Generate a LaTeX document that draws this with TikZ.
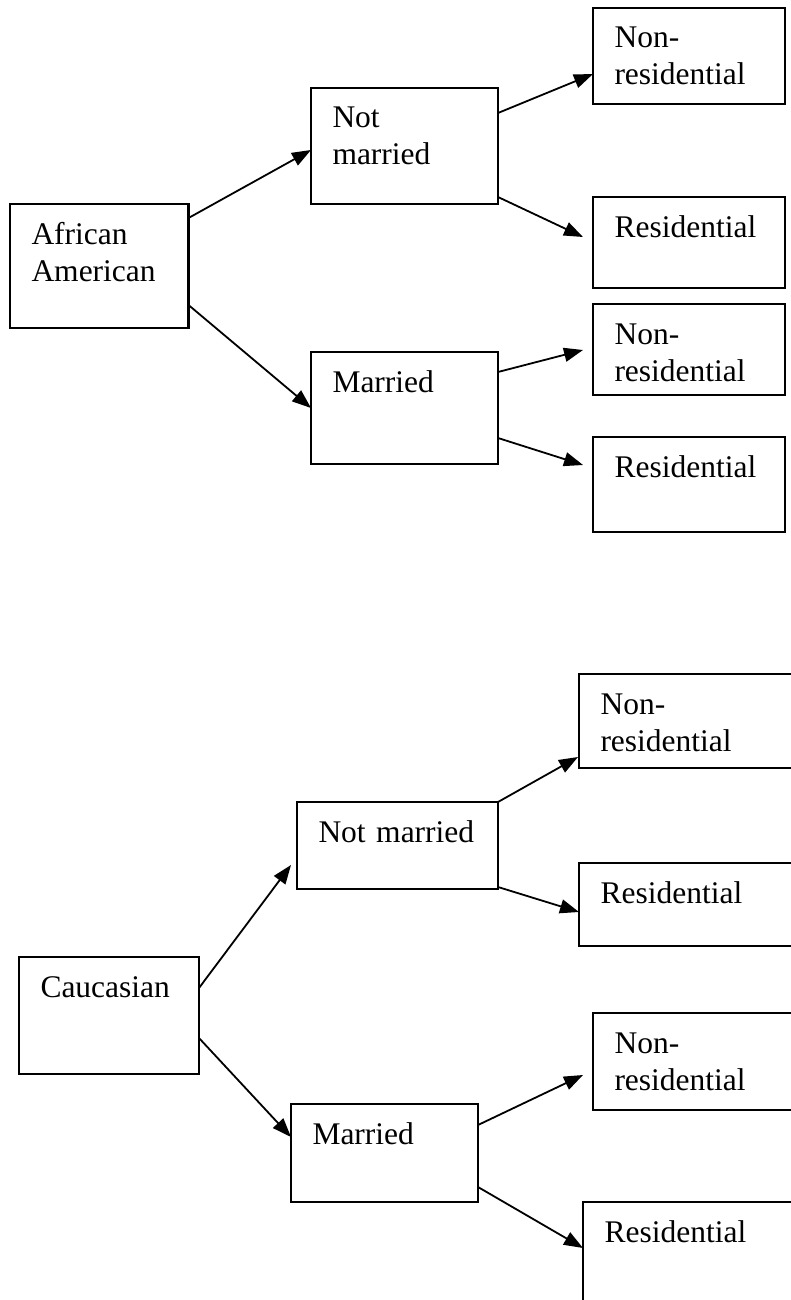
\documentclass[tikz,border=0pt]{standalone}
\usepackage{fontspec}
\setmainfont{Liberation Serif}
\usetikzlibrary{arrows.meta}
\begin{document}
\begin{tikzpicture}[x=1pt, y=-1pt,
    box/.style={draw, line width=2.2pt, anchor=north west, outer sep=0pt, align=left,
      inner xsep=21.5pt, inner ysep=0pt, text height=40pt,
      font=\fontsize{31.5pt}{37pt}\selectfont},
    arr/.style={line width=1.8pt, -{Triangle[length=19pt, width=14pt]}}]
  \clip (0, 0) rectangle (791, 1300);
  \node[box, text width=135.5pt, text depth=84pt] (aa) at (10, 204) {African\\American};
  \node[box, text width=144pt, text depth=76pt] (nm1) at (311, 88) {Not\\married};
  \node[box, text width=144pt, text depth=72pt] (m1) at (311, 352) {Married};
  \node[box, text width=149pt, text depth=56pt] (nr1) at (593, 8) {Non-\\residential};
  \node[box, text width=149pt, text depth=51pt] (r1) at (593, 197) {Residential};
  \node[box, text width=149pt, text depth=51pt] (nr2) at (593, 304) {Non-\\residential};
  \node[box, text width=149pt, text depth=55pt] (r2) at (593, 437) {Residential};
  \draw[arr] ([shift={(0, 14)}]aa.north east) -- ([shift={(0, 62)}]nm1.north west);
  \draw[arr] ([shift={(0, 101)}]aa.north east) -- ([shift={(0, 56)}]m1.north west);
  \draw[arr] ([shift={(0, 25)}]nm1.north east) -- ([shift={(0, 66)}]nr1.north west);
  \draw[arr] ([shift={(0, 109)}]nm1.north east) -- ([shift={(-10, 40)}]r1.north west);
  \draw[arr] ([shift={(0, 20)}]m1.north east) -- ([shift={(-10, 46)}]nr2.north west);
  \draw[arr] ([shift={(0, 86)}]m1.north east) -- ([shift={(-10, 28)}]r2.north west);

  \node[box, text width=137pt, text depth=77pt] (cauc) at (19, 957) {Caucasian};
  \node[box, text width=158pt, text depth=47pt] (nm2) at (297, 802) {Not married};
  \node[box, text width=144pt, text depth=58pt] (m2) at (291, 1104) {Married};
  \node[box, text width=187pt, text depth=54pt] (nr3) at (579, 674) {Non-\\residential};
  \node[box, text width=187pt, text depth=43pt] (r3) at (579, 863) {Residential};
  \node[box, text width=173pt, text depth=57pt] (nr4) at (593, 1013) {Non-\\residential};
  \node[box, text width=183pt, text depth=80pt] (r4) at (583, 1202) {Residential};
  \draw[arr] ([shift={(0, 31)}]cauc.north east) -- ([shift={(-6, -24)}]nm2.south west);
  \draw[arr] ([shift={(0, 81)}]cauc.north east) -- ([shift={(0, 33)}]m2.north west);
  \draw[arr] (nm2.north east) -- ([shift={(-1, -11)}]nr3.south west);
  \draw[arr] ([shift={(0, -2)}]nm2.south east) -- ([shift={(0, 49)}]r3.north west);
  \draw[arr] ([shift={(0, 21)}]m2.north east) -- ([shift={(-10, 62)}]nr4.north west);
  \draw[arr] ([shift={(0, 83)}]m2.north east) -- ([shift={(0, 46)}]r4.north west);
\end{tikzpicture}
\end{document}
